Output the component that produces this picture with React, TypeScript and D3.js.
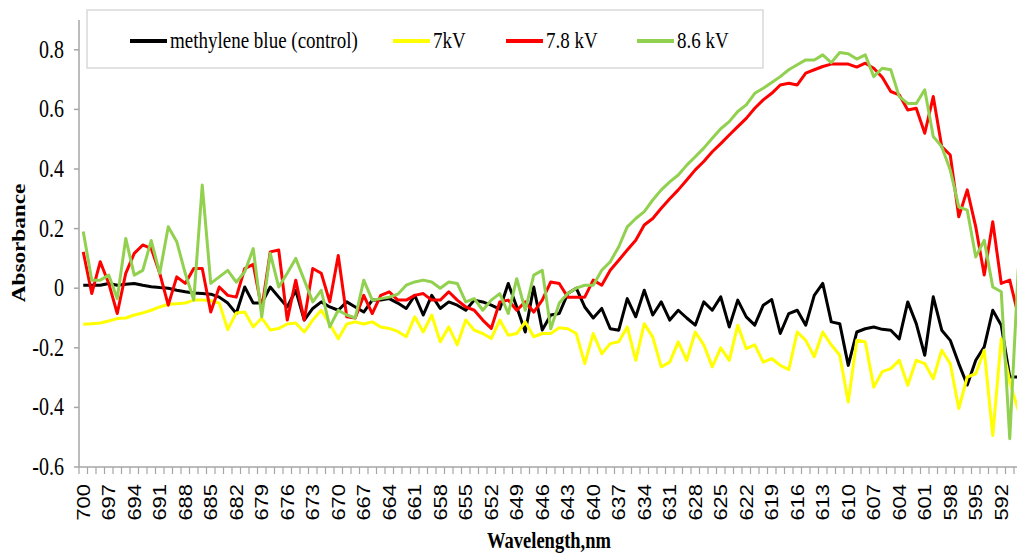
import React, { useEffect, useRef } from "react";
import * as d3 from "d3";

// wavelength categories, 700 nm down to 590 nm, one per nm
const wavelengths = d3.range(700, 589, -1);

// absorbance values (700 -> 590)
const control = [
  0.010, 0.010, 0.010, 0.016, 0.010, 0.013, 0.016, 0.010, 0.005, 0.002,
  0.000, -0.007, -0.012, -0.016, -0.018, -0.020, -0.030, -0.050, -0.085, 0.004,
  -0.050, -0.050, 0.004, -0.030, -0.063, -0.007, -0.107, -0.068, -0.046, -0.063,
  -0.074, -0.046, -0.063, -0.080, -0.040, -0.040, -0.035, -0.050, -0.068, -0.024,
  -0.090, -0.024, -0.068, -0.046, -0.057, -0.074, -0.040, -0.046, -0.057, -0.070,
  0.016, -0.063, -0.147, 0.004, -0.140, -0.090, -0.085, -0.018, 0.000, -0.063,
  -0.100, -0.068, -0.136, -0.141, -0.035, -0.096, -0.007, -0.090, -0.046, -0.107,
  -0.074, -0.100, -0.124, -0.046, -0.074, -0.029, -0.130, -0.040, -0.096, -0.124,
  -0.057, -0.038, -0.152, -0.085, -0.074, -0.124, -0.024, 0.016, -0.113, -0.119,
  -0.259, -0.147, -0.136, -0.130, -0.138, -0.141, -0.170, -0.046, -0.119, -0.225,
  -0.029, -0.141, -0.175, -0.253, -0.325, -0.242, -0.197, -0.074, -0.124, -0.298,
  -0.298,
];

const kv7 = [
  -0.121, -0.119, -0.117, -0.110, -0.102, -0.100, -0.090, -0.083, -0.074, -0.063,
  -0.054, -0.052, -0.050, -0.040, -0.040, -0.042, -0.050, -0.139, -0.083, -0.080,
  -0.130, -0.100, -0.140, -0.135, -0.120, -0.117, -0.147, -0.107, -0.074, -0.120,
  -0.170, -0.120, -0.113, -0.120, -0.113, -0.130, -0.135, -0.145, -0.163, -0.096,
  -0.147, -0.090, -0.180, -0.130, -0.190, -0.107, -0.141, -0.152, -0.169, -0.107,
  -0.158, -0.152, -0.113, -0.163, -0.152, -0.152, -0.133, -0.136, -0.152, -0.253,
  -0.152, -0.220, -0.186, -0.180, -0.130, -0.242, -0.119, -0.164, -0.264, -0.248,
  -0.180, -0.242, -0.147, -0.190, -0.264, -0.200, -0.242, -0.124, -0.203, -0.190,
  -0.248, -0.236, -0.259, -0.273, -0.147, -0.175, -0.230, -0.147, -0.190, -0.225,
  -0.382, -0.175, -0.180, -0.332, -0.280, -0.270, -0.242, -0.326, -0.242, -0.253,
  -0.304, -0.208, -0.253, -0.404, -0.298, -0.287, -0.208, -0.494, -0.170, -0.315,
  -0.410,
];

const kv78 = [
  0.122, -0.018, 0.089, 0.016, -0.085, 0.050, 0.117, 0.145, 0.133, 0.050,
  -0.057, 0.038, 0.016, 0.066, 0.066, -0.080, 0.004, -0.024, -0.030, 0.066,
  0.080, -0.070, 0.122, 0.128, -0.107, 0.027, -0.107, 0.066, 0.050, -0.046,
  0.110, -0.096, -0.100, -0.024, -0.085, -0.024, -0.012, -0.040, -0.040, -0.024,
  -0.018, -0.040, -0.040, -0.012, -0.040, -0.063, -0.074, -0.107, -0.135, -0.046,
  -0.040, -0.074, -0.046, -0.080, -0.040, 0.021, 0.016, -0.030, -0.030, -0.030,
  0.027, 0.010, 0.060, 0.094, 0.128, 0.161, 0.212, 0.234, 0.268, 0.300,
  0.330, 0.363, 0.397, 0.425, 0.458, 0.485, 0.514, 0.542, 0.570, 0.604,
  0.632, 0.654, 0.682, 0.688, 0.682, 0.722, 0.733, 0.744, 0.752, 0.752,
  0.752, 0.742, 0.755, 0.738, 0.708, 0.660, 0.649, 0.598, 0.604, 0.520,
  0.643, 0.475, 0.447, 0.240, 0.330, 0.206, 0.044, 0.223, 0.016, 0.027,
  -0.090,
];

const kv86 = [
  0.190, 0.027, 0.027, 0.044, -0.035, 0.167, 0.044, 0.060, 0.160, 0.050,
  0.206, 0.156, 0.050, -0.040, 0.346, 0.016, 0.038, 0.060, 0.020, 0.055,
  0.133, -0.096, 0.117, 0.004, 0.050, 0.100, 0.027, -0.046, -0.007, -0.130,
  -0.074, -0.090, -0.100, 0.027, -0.040, -0.035, -0.030, -0.020, 0.010, 0.021,
  0.027, 0.021, 0.000, 0.021, 0.016, -0.046, -0.035, -0.074, -0.040, -0.018,
  -0.085, 0.032, -0.074, 0.044, 0.060, -0.136, -0.050, -0.018, 0.000, 0.010,
  0.010, 0.060, 0.089, 0.139, 0.206, 0.234, 0.257, 0.296, 0.330, 0.357,
  0.380, 0.413, 0.441, 0.470, 0.503, 0.535, 0.559, 0.593, 0.615, 0.654,
  0.671, 0.690, 0.710, 0.733, 0.750, 0.766, 0.766, 0.783, 0.757, 0.791,
  0.787, 0.769, 0.783, 0.710, 0.738, 0.733, 0.643, 0.620, 0.620, 0.666,
  0.509, 0.475, 0.397, 0.273, 0.262, 0.105, 0.161, 0.004, -0.012, -0.505,
  0.066,
];

const seriesNames = ["methylene blue (control)", "7kV", "7.8 kV", "8.6 kV"];
const seriesColors = ["#000000", "#ffff00", "#ff0000", "#92d050"];
const seriesValues = [control, kv7, kv78, kv86];

const yTicks = [-0.6, -0.4, -0.2, 0, 0.2, 0.4, 0.6, 0.8];
const xTickLabels = wavelengths.filter((_, i) => i % 3 === 0);

const W = 1017;
const H = 553;
const AXIS = "#a6a6a6";
const STRETCH = 1.22; // the original picture is squashed, glyphs look tall

type G = d3.Selection<SVGGElement, unknown, null, undefined>;

const addText = (
  g: G,
  str: string,
  x: number,
  y: number,
  size: number,
  family: string,
  anchor: string,
  opts: { bold?: boolean; vertical?: boolean; dy?: string } = {}
) =>
  g
    .append("text")
    .attr(
      "transform",
      `translate(${x},${y}) ` +
        (opts.vertical ? `rotate(-90) scale(${STRETCH},1)` : `scale(1,${STRETCH})`)
    )
    .attr("dy", opts.dy ?? "0")
    .attr("text-anchor", anchor)
    .attr("font-family", family)
    .attr("font-size", size)
    .attr("font-weight", opts.bold ? "bold" : "normal")
    .attr("fill", "#000")
    .text(str);

export default function App() {
  const ref = useRef<SVGSVGElement>(null);

  useEffect(() => {
    const svg = d3.select(ref.current);
    svg.selectAll("*").remove();
    const g = svg.append("g") as unknown as G;

    const x = d3
      .scaleBand<number>()
      .domain(wavelengths)
      .range([79, 79 + wavelengths.length * 8.5]);
    const y = d3.scaleLinear().domain([-0.6, 0.9]).range([467, 20]);
    const cx = (w: number) => (x(w) ?? 0) + x.bandwidth() / 2;

    // axes
    g.append("line")
      .attr("x1", 79).attr("x2", 79)
      .attr("y1", y(0.9)).attr("y2", y(-0.6))
      .attr("stroke", AXIS).attr("stroke-width", 1.5);
    g.append("line")
      .attr("x1", 79).attr("x2", W)
      .attr("y1", y(-0.6)).attr("y2", y(-0.6))
      .attr("stroke", AXIS).attr("stroke-width", 1.5);

    g.selectAll(".ytick")
      .data(yTicks)
      .join("line")
      .attr("x1", 74).attr("x2", 79)
      .attr("y1", (d) => y(d)).attr("y2", (d) => y(d))
      .attr("stroke", AXIS).attr("stroke-width", 1.5);

    yTicks.forEach((t) =>
      addText(g, t === 0 ? "0" : t.toFixed(1), 64, y(t), 20, "Liberation Serif", "end", {
        dy: "0.33em",
      })
    );

    const bounds = wavelengths.map((w) => x(w) ?? 0).concat([x.range()[1]]);
    g.selectAll(".xtick")
      .data(bounds)
      .join("line")
      .attr("x1", (d) => d).attr("x2", (d) => d)
      .attr("y1", y(-0.6)).attr("y2", y(-0.6) + 7)
      .attr("stroke", AXIS).attr("stroke-width", 1.2);

    xTickLabels.forEach((w) =>
      addText(g, String(w), cx(w), y(-0.6) + 17, 18, "Liberation Sans", "end", {
        vertical: true,
        dy: "0.36em",
      })
    );

    addText(g, "Absorbance", 18, 243, 19, "Liberation Serif", "middle", {
      bold: true,
      vertical: true,
      dy: "0.35em",
    });
    addText(g, "Wavelength,nm", 549, 548, 18.5, "Liberation Serif", "middle", {
      bold: true,
    });

    // series, drawn in legend order so green ends up on top
    const line = d3
      .line<number>()
      .x((_, i) => cx(wavelengths[i]))
      .y((d) => y(d));

    seriesValues.forEach((vals, si) => {
      g.append("path")
        .datum(vals)
        .attr("d", line)
        .attr("fill", "none")
        .attr("stroke", seriesColors[si])
        .attr("stroke-width", 3)
        .attr("stroke-linejoin", "round");
    });

    // legend
    const legendX = [130, 393, 506, 637];
    g.append("rect")
      .attr("x", 87).attr("y", 10)
      .attr("width", 676).attr("height", 58)
      .attr("fill", "#fff")
      .attr("stroke", "#d9d9d9").attr("stroke-width", 1.5);
    seriesNames.forEach((name, si) => {
      const lx = legendX[si];
      g.append("line")
        .attr("x1", lx).attr("x2", lx + 37)
        .attr("y1", 41).attr("y2", 41)
        .attr("stroke", seriesColors[si])
        .attr("stroke-width", 4);
      addText(g, name, lx + 40, 48, 19, "Liberation Serif", "start");
    });
  }, []);

  return (
    <svg
      ref={ref}
      width={W}
      height={H}
      style={{ position: "absolute", left: 0, top: 0, background: "#fff" }}
    />
  );
}
